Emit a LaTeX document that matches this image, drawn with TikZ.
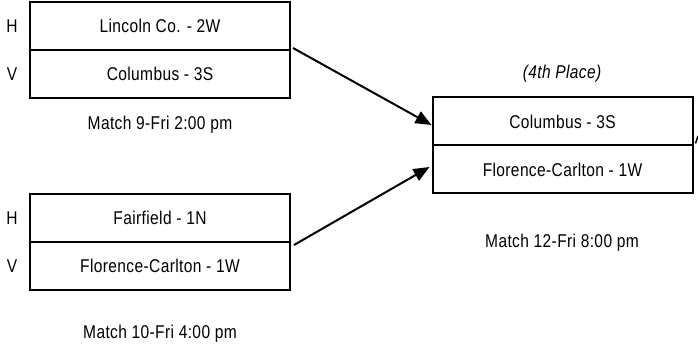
\documentclass[tikz,border=0pt]{standalone}
\usepackage{fontspec}
\setmainfont{Liberation Sans}[FakeStretch=0.84,LetterSpace=2]
\usetikzlibrary{arrows.meta}
\begin{document}
\begin{tikzpicture}[x=1pt,y=-1pt,
  cell/.style={draw, line width=2pt, minimum width=260pt, minimum height=48pt, inner sep=0pt, font=\fontsize{18.5}{20}\selectfont},
  lbl/.style={inner sep=0pt, font=\fontsize{18.5}{20}\selectfont},
  conn/.style={line width=2pt, -{Triangle[length=16pt,width=13pt]}}]
\useasboundingbox (0,0) rectangle (698,344);
% Match 9
\node[cell] (m9a) at (160,26) {Lincoln Co. - 2W};
\node[cell] (m9b) at (160,74) {Columbus - 3S};
\node[lbl] (h9) at (12,26) {H};
\node[lbl] (v9) at (12,74) {V};
\node[lbl] (t9) at (160,125) {Match 9-Fri 2:00 pm};
% Match 10
\node[cell] (m10a) at (160,218) {Fairfield - 1N};
\node[cell] (m10b) at (160,266) {Florence-Carlton - 1W};
\node[lbl] (h10) at (12,218) {H};
\node[lbl] (v10) at (12,266) {V};
\node[lbl] (t10) at (160,334) {Match 10-Fri 4:00 pm};
% Match 12
\node[cell] (m12a) at (562.5,121.5) {Columbus - 3S};
\node[cell] (m12b) at (562.5,169.5) {Florence-Carlton - 1W};
\node[lbl] (p12) at (562,74) {\itshape (4th Place)};
\node[lbl] (t12) at (562,243) {Match 12-Fri 8:00 pm};
% connectors
\draw[conn] ([xshift=2pt,yshift=3pt]m9a.south east) -- ([yshift=-3.5pt]m12a.west);
\draw[conn] ([xshift=3pt,yshift=-4pt]m10b.north east) -- ([xshift=-2pt,yshift=2.5pt]m12b.west);
\coordinate (off) at (698,136);
\draw[line width=1.5pt] ([xshift=2pt,yshift=3pt]m12a.south east) -- (off);
\end{tikzpicture}
\end{document}
